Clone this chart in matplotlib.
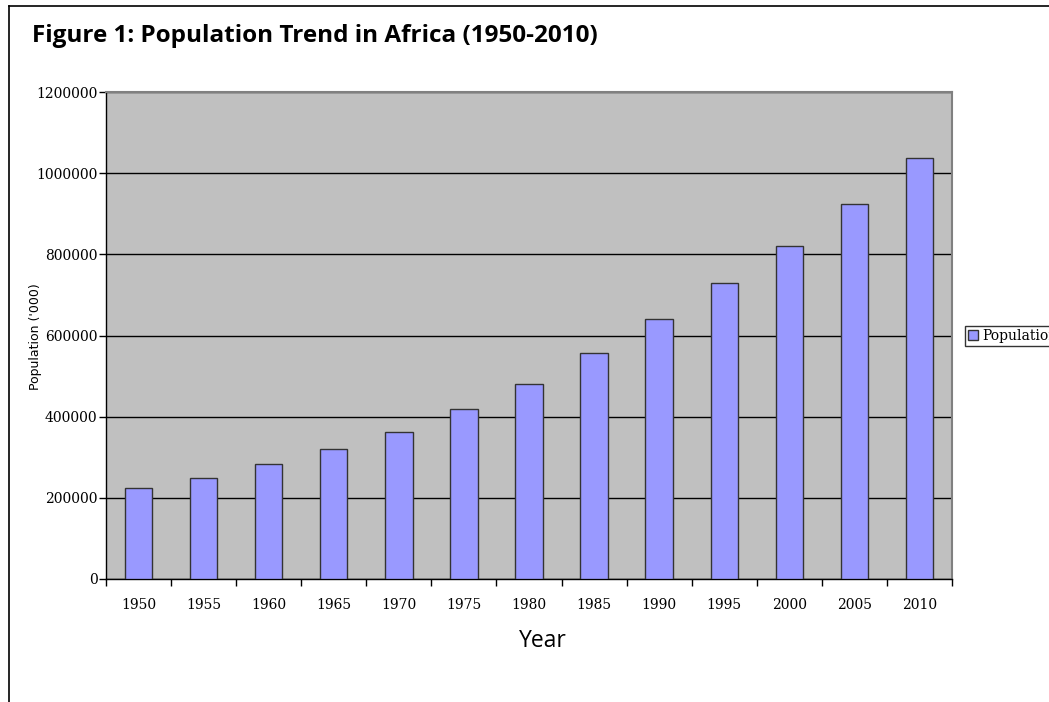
import matplotlib
matplotlib.use("Agg")
import matplotlib.pyplot as plt
from matplotlib.lines import Line2D
import numpy as np

years = ["1950", "1955", "1960", "1965", "1970", "1975", "1980",
         "1985", "1990", "1995", "2000", "2005", "2010"]
population = [224000, 249000, 283000, 320000, 363000, 418000, 480000,
              556000, 641000, 729000, 821000, 923000, 1037000]
yticks = [0, 200000, 400000, 600000, 800000, 1000000, 1200000]

fig = plt.figure(figsize=(10.49, 7.02), dpi=100)
ax = fig.add_axes([106/1049, 1-579/702, (952-106)/1049, (579-92)/702])
ax.set_facecolor("#C0C0C0")

x = np.arange(len(years))
ax.bar(x, population, width=0.42, color="#9999FF", edgecolor="#333333",
       linewidth=1.0, zorder=3, label="Population")

ax.set_xlim(-0.5, len(years) - 0.5)
ax.set_ylim(0, 1200000)
ax.set_yticks(yticks)
ax.set_yticklabels([str(v) for v in yticks], family="DejaVu Serif", fontsize=10)
ax.yaxis.grid(True, color="black", linewidth=1.0, zorder=1)
ax.tick_params(axis="y", direction="out", length=5, width=1, color="black", pad=1)

ax.set_xticks(x)
ax.set_xticklabels(years, family="DejaVu Serif", fontsize=10)
ax.set_xticks(np.arange(-0.5, len(years), 1.0), minor=True)
ax.tick_params(axis="x", which="major", length=0, pad=14)
ax.tick_params(axis="x", which="minor", direction="out", length=5, width=1, color="black")

for s in ["top", "right"]:
    ax.spines[s].set_color("#808080")
    ax.spines[s].set_linewidth(1.5)
for s in ["left", "bottom"]:
    ax.spines[s].set_color("black")
    ax.spines[s].set_linewidth(1.0)

fig.text(32/1049, 1-36/702, "Figure 1: Population Trend in Africa (1950-2010)",
         family="Open Sans", fontweight="bold", fontsize=17.5, va="center", ha="left")
fig.text(543/1049, 1-641/702, "Year", family="Open Sans", fontsize=16.5,
         ha="center", va="center")
fig.text(36/1049, 1-337/702, "Population ('000)", family="DejaVu Sans",
         fontsize=9, rotation=90, ha="center", va="center")

leg = fig.legend(loc="center left", bbox_to_anchor=(965/1049, 1-336/702),
                 prop={"family": "DejaVu Serif", "size": 10},
                 frameon=True, fancybox=False, edgecolor="black",
                 handlelength=0.7, handleheight=0.7, handletextpad=0.3,
                 borderpad=0.25, borderaxespad=0)
leg.get_frame().set_linewidth(1.0)

fig.add_artist(Line2D([9/1049, 1], [1-6/702, 1-6/702], color="black", linewidth=1.2,
                      transform=fig.transFigure))
fig.add_artist(Line2D([9/1049, 9/1049], [0, 1-6/702], color="black", linewidth=1.2,
                      transform=fig.transFigure))

fig.savefig("out.png", dpi=100)
